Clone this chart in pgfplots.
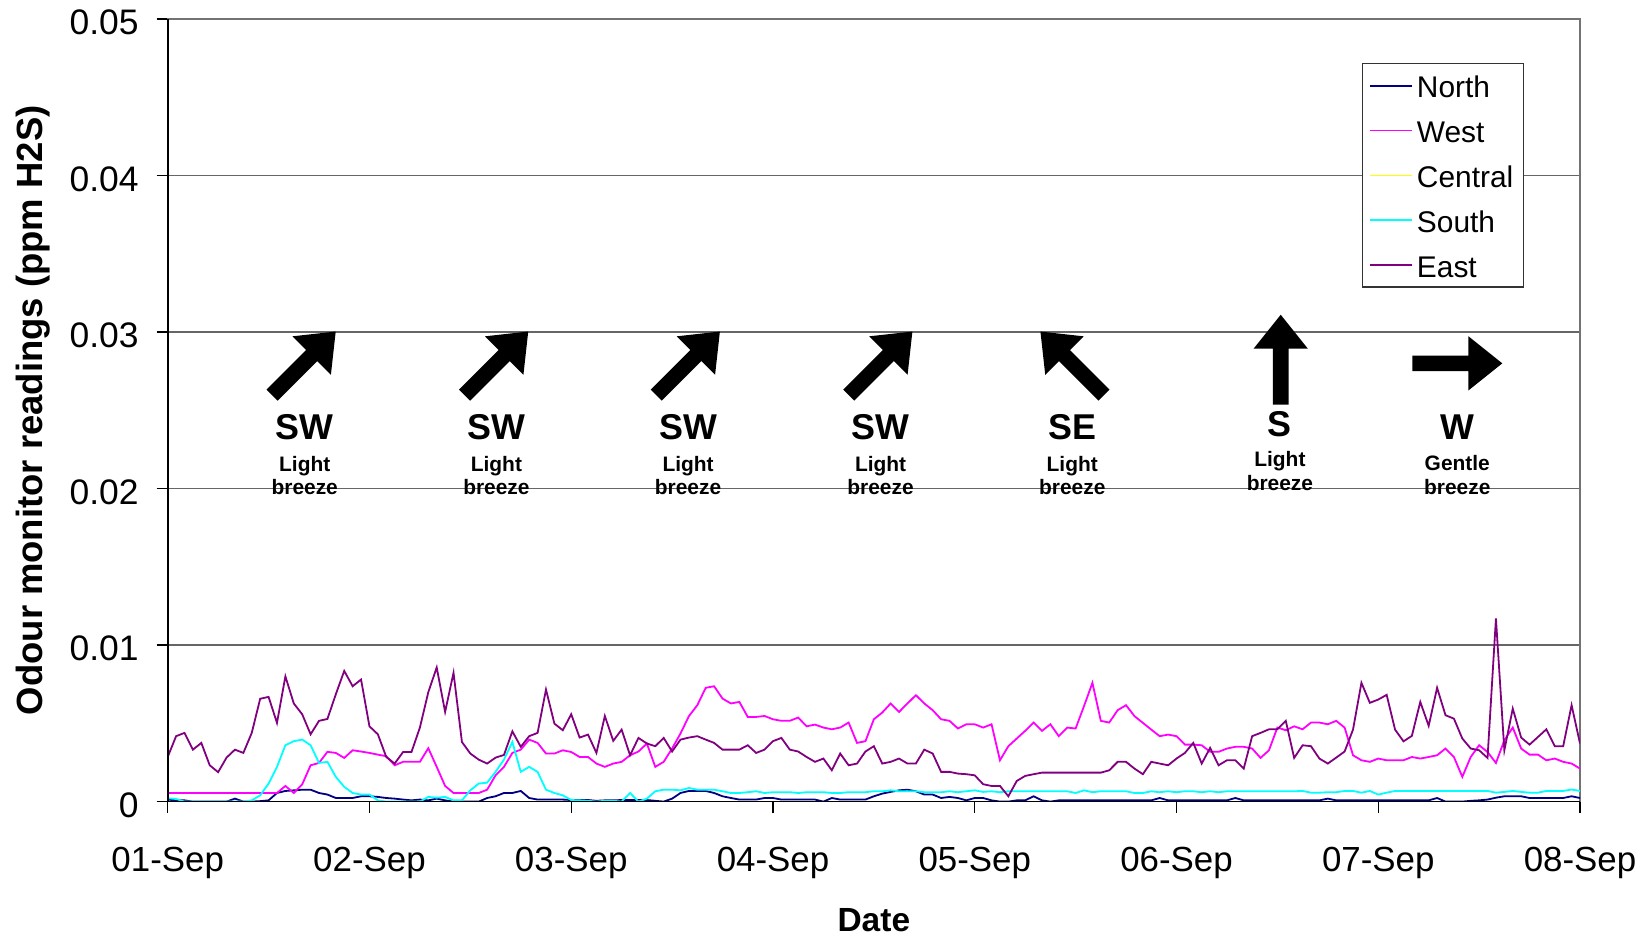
\documentclass[border=0pt]{standalone}
\usepackage{pgfplots}
\pgfplotsset{compat=1.18}
\usepackage{pgfplotstable}
\usepackage{fontspec}
\setmainfont{Liberation Sans}
\definecolor{cNorth}{HTML}{000080}
\definecolor{cWest}{HTML}{FF00FF}
\definecolor{cCentral}{HTML}{FFFF00}
\definecolor{cSouth}{HTML}{00FFFF}
\definecolor{cEast}{HTML}{800080}
\pgfplotstableread{
h N W S E
0 0.13e-3 0.55e-3 0.21e-3 2.85e-3
1 0.08e-3 0.55e-3 0.17e-3 4.18e-3
2 0.08e-3 0.55e-3 0 4.39e-3
3 0 0.55e-3 0 3.32e-3
4 0 0.55e-3 0 3.75e-3
5 0 0.55e-3 0 2.32e-3
6 0 0.55e-3 0 1.88e-3
7 0 0.55e-3 0 2.81e-3
8 0.19e-3 0.55e-3 0 3.32e-3
9 0 0.55e-3 0 3.11e-3
10 0 0.55e-3 0.08e-3 4.39e-3
11 0.03e-3 0.55e-3 0.4e-3 6.57e-3
12 0.08e-3 0.55e-3 1.15e-3 6.69e-3
13 0.55e-3 0.55e-3 2.22e-3 5.03e-3
14 0.68e-3 1.0e-3 3.6e-3 8.0e-3
15 0.72e-3 0.55e-3 3.86e-3 6.27e-3
16 0.76e-3 1.1e-3 3.96e-3 5.58e-3
17 0.76e-3 2.32e-3 3.6e-3 4.3e-3
18 0.55e-3 2.47e-3 2.47e-3 5.16e-3
19 0.45e-3 3.18e-3 2.54e-3 5.28e-3
20 0.23e-3 3.11e-3 1.58e-3 6.86e-3
21 0.23e-3 2.79e-3 0.94e-3 8.35e-3
22 0.23e-3 3.28e-3 0.55e-3 7.37e-3
23 0.34e-3 3.2e-3 0.45e-3 7.8e-3
24 0.34e-3 3.11e-3 0.45e-3 4.81e-3
25 0.3e-3 3.0e-3 0.08e-3 4.3e-3
26 0.23e-3 2.9e-3 0 2.85e-3
27 0.19e-3 2.32e-3 0 2.43e-3
28 0.13e-3 2.54e-3 0 3.17e-3
29 0.08e-3 2.54e-3 0 3.17e-3
30 0.13e-3 2.54e-3 0 4.73e-3
31 0.08e-3 3.41e-3 0.3e-3 6.99e-3
32 0.19e-3 2.22e-3 0.25e-3 8.57e-3
33 0.08e-3 1.0e-3 0.3e-3 5.73e-3
34 0 0.55e-3 0.08e-3 8.23e-3
35 0 0.55e-3 0.08e-3 3.81e-3
36 0 0.55e-3 0.72e-3 3.07e-3
37 0 0.55e-3 1.15e-3 2.68e-3
38 0.23e-3 0.76e-3 1.21e-3 2.43e-3
39 0.34e-3 1.68e-3 1.9e-3 2.81e-3
40 0.55e-3 2.22e-3 2.68e-3 2.98e-3
41 0.55e-3 3.11e-3 3.81e-3 4.49e-3
42 0.68e-3 3.32e-3 1.9e-3 3.5e-3
43 0.23e-3 3.96e-3 2.22e-3 4.18e-3
44 0.13e-3 3.75e-3 1.9e-3 4.39e-3
45 0.13e-3 3.07e-3 0.76e-3 7.16e-3
46 0.13e-3 3.07e-3 0.55e-3 4.98e-3
47 0.13e-3 3.28e-3 0.4e-3 4.56e-3
48 0.1e-3 3.17e-3 0.1e-3 5.58e-3
49 0.1e-3 2.85e-3 0.08e-3 4.09e-3
50 0.1e-3 2.85e-3 0.05e-3 4.28e-3
51 0.05e-3 2.43e-3 0 3.11e-3
52 0.08e-3 2.22e-3 0.05e-3 5.47e-3
53 0.08e-3 2.43e-3 0.05e-3 3.88e-3
54 0.1e-3 2.54e-3 0 4.6e-3
55 0.1e-3 2.96e-3 0.55e-3 2.96e-3
56 0.1e-3 3.2e-3 0 4.07e-3
57 0.1e-3 3.71e-3 0.19e-3 3.71e-3
58 0.05e-3 2.22e-3 0.66e-3 3.54e-3
59 0 2.54e-3 0.76e-3 4.07e-3
60 0.19e-3 3.39e-3 0.76e-3 3.2e-3
61 0.55e-3 4.35e-3 0.72e-3 3.96e-3
62 0.68e-3 5.46e-3 0.87e-3 4.09e-3
63 0.68e-3 6.16e-3 0.76e-3 4.18e-3
64 0.68e-3 7.27e-3 0.76e-3 3.96e-3
65 0.55e-3 7.37e-3 0.76e-3 3.75e-3
66 0.34e-3 6.58e-3 0.66e-3 3.32e-3
67 0.23e-3 6.27e-3 0.55e-3 3.32e-3
68 0.13e-3 6.37e-3 0.55e-3 3.32e-3
69 0.13e-3 5.41e-3 0.6e-3 3.6e-3
70 0.13e-3 5.41e-3 0.66e-3 3.11e-3
71 0.23e-3 5.47e-3 0.55e-3 3.32e-3
72 0.23e-3 5.26e-3 0.6e-3 3.86e-3
73 0.13e-3 5.16e-3 0.6e-3 4.07e-3
74 0.13e-3 5.16e-3 0.6e-3 3.32e-3
75 0.13e-3 5.37e-3 0.55e-3 3.2e-3
76 0.13e-3 4.81e-3 0.6e-3 2.85e-3
77 0.13e-3 4.92e-3 0.6e-3 2.54e-3
78 0 4.73e-3 0.6e-3 2.75e-3
79 0.23e-3 4.62e-3 0.55e-3 2.0e-3
80 0.13e-3 4.73e-3 0.55e-3 3.07e-3
81 0.13e-3 5.05e-3 0.6e-3 2.32e-3
82 0.13e-3 3.75e-3 0.6e-3 2.43e-3
83 0.13e-3 3.86e-3 0.6e-3 3.2e-3
84 0.34e-3 5.26e-3 0.66e-3 3.54e-3
85 0.51e-3 5.69e-3 0.66e-3 2.43e-3
86 0.62e-3 6.27e-3 0.72e-3 2.54e-3
87 0.72e-3 5.73e-3 0.66e-3 2.75e-3
88 0.76e-3 6.27e-3 0.66e-3 2.43e-3
89 0.66e-3 6.8e-3 0.66e-3 2.43e-3
90 0.45e-3 6.27e-3 0.6e-3 3.32e-3
91 0.45e-3 5.84e-3 0.6e-3 3.07e-3
92 0.23e-3 5.26e-3 0.6e-3 1.9e-3
93 0.3e-3 5.16e-3 0.66e-3 1.9e-3
94 0.23e-3 4.67e-3 0.6e-3 1.79e-3
95 0.08e-3 4.94e-3 0.66e-3 1.75e-3
96 0.23e-3 4.94e-3 0.72e-3 1.68e-3
97 0.23e-3 4.73e-3 0.62e-3 1.11e-3
98 0.08e-3 4.94e-3 0.66e-3 1.0e-3
99 0 2.64e-3 0.6e-3 1.0e-3
100 0 3.54e-3 0.66e-3 0.34e-3
101 0.08e-3 4.03e-3 0.66e-3 1.32e-3
102 0.08e-3 4.52e-3 0.66e-3 1.64e-3
103 0.34e-3 5.05e-3 0.66e-3 1.75e-3
104 0.08e-3 4.52e-3 0.66e-3 1.85e-3
105 0 4.94e-3 0.66e-3 1.85e-3
106 0.08e-3 4.18e-3 0.66e-3 1.85e-3
107 0.08e-3 4.73e-3 0.66e-3 1.85e-3
108 0.08e-3 4.67e-3 0.55e-3 1.85e-3
109 0.08e-3 6.1e-3 0.72e-3 1.85e-3
110 0.08e-3 7.59e-3 0.6e-3 1.85e-3
111 0.08e-3 5.16e-3 0.66e-3 1.85e-3
112 0.08e-3 5.05e-3 0.66e-3 2.0e-3
113 0.08e-3 5.84e-3 0.66e-3 2.54e-3
114 0.08e-3 6.16e-3 0.66e-3 2.54e-3
115 0.08e-3 5.46e-3 0.55e-3 2.11e-3
116 0.08e-3 5.03e-3 0.55e-3 1.75e-3
117 0.08e-3 4.6e-3 0.66e-3 2.54e-3
118 0.23e-3 4.18e-3 0.6e-3 2.43e-3
119 0.08e-3 4.28e-3 0.66e-3 2.32e-3
120 0.08e-3 4.18e-3 0.6e-3 2.75e-3
121 0.08e-3 3.64e-3 0.66e-3 3.11e-3
122 0.08e-3 3.64e-3 0.66e-3 3.75e-3
123 0.08e-3 3.6e-3 0.6e-3 2.43e-3
124 0.08e-3 3.18e-3 0.66e-3 3.43e-3
125 0.08e-3 3.18e-3 0.6e-3 2.32e-3
126 0.08e-3 3.39e-3 0.66e-3 2.64e-3
127 0.23e-3 3.5e-3 0.66e-3 2.64e-3
128 0.08e-3 3.5e-3 0.66e-3 2.11e-3
129 0.08e-3 3.39e-3 0.66e-3 4.18e-3
130 0.08e-3 2.79e-3 0.66e-3 4.39e-3
131 0.08e-3 3.28e-3 0.66e-3 4.62e-3
132 0.08e-3 4.73e-3 0.66e-3 4.62e-3
133 0.08e-3 4.56e-3 0.66e-3 5.16e-3
134 0.08e-3 4.81e-3 0.66e-3 2.79e-3
135 0.08e-3 4.62e-3 0.68e-3 3.6e-3
136 0.08e-3 5.05e-3 0.57e-3 3.54e-3
137 0.08e-3 5.05e-3 0.57e-3 2.75e-3
138 0.19e-3 4.94e-3 0.6e-3 2.43e-3
139 0.08e-3 5.16e-3 0.6e-3 2.81e-3
140 0.08e-3 4.73e-3 0.68e-3 3.2e-3
141 0.08e-3 2.96e-3 0.68e-3 4.6e-3
142 0.08e-3 2.64e-3 0.57e-3 7.59e-3
143 0.08e-3 2.54e-3 0.68e-3 6.31e-3
144 0.08e-3 2.75e-3 0.45e-3 6.52e-3
145 0.08e-3 2.64e-3 0.57e-3 6.82e-3
146 0.08e-3 2.64e-3 0.68e-3 4.6e-3
147 0.08e-3 2.64e-3 0.68e-3 3.85e-3
148 0.08e-3 2.85e-3 0.68e-3 4.2e-3
149 0.08e-3 2.75e-3 0.68e-3 6.37e-3
150 0.08e-3 2.85e-3 0.68e-3 4.84e-3
151 0.23e-3 2.96e-3 0.68e-3 7.27e-3
152 0 3.39e-3 0.68e-3 5.52e-3
153 0 2.85e-3 0.68e-3 5.3e-3
154 0 1.58e-3 0.68e-3 4.03e-3
155 0.05e-3 2.85e-3 0.68e-3 3.39e-3
156 0.08e-3 3.6e-3 0.68e-3 3.28e-3
157 0.13e-3 3.17e-3 0.68e-3 2.79e-3
158 0.25e-3 2.47e-3 0.57e-3 11.7e-3
159 0.34e-3 3.92e-3 0.62e-3 3.28e-3
160 0.34e-3 4.73e-3 0.68e-3 5.94e-3
161 0.34e-3 3.39e-3 0.62e-3 4.09e-3
162 0.23e-3 3.0e-3 0.57e-3 3.64e-3
163 0.23e-3 3.0e-3 0.57e-3 4.13e-3
164 0.23e-3 2.64e-3 0.68e-3 4.62e-3
165 0.23e-3 2.75e-3 0.68e-3 3.54e-3
166 0.23e-3 2.54e-3 0.68e-3 3.54e-3
167 0.34e-3 2.43e-3 0.77e-3 6.16e-3
168 0.23e-3 2.11e-3 0.68e-3 3.71e-3
}\odour
\newcommand{\arrowshape}{(-22.5bp,-3.9bp) -- (5.5bp,-3.9bp) -- (5.5bp,-13.6bp) -- (22.5bp,0bp) -- (5.5bp,13.6bp) -- (5.5bp,3.9bp) -- (-22.5bp,3.9bp) -- cycle}
\begin{document}
\begin{tikzpicture}
\begin{axis}[
  name=ax,
  scale only axis,
  width=706.15bp, height=391.3bp,
  xmin=0, xmax=168, ymin=0, ymax=0.05,
  xtick={0,24,48,72,96,120,144,168},
  xticklabels={01-Sep,02-Sep,03-Sep,04-Sep,05-Sep,06-Sep,07-Sep,08-Sep},
  ytick={0,0.01,0.02,0.03,0.04,0.05},
  yticklabels={0,0.01,0.02,0.03,0.04,0.05},
  xtick pos=bottom, ytick pos=left,
  tick align=outside,
  major tick length=5.5bp,
  tick style={black, line width=0.6bp},
  axis line style={draw=black!55, line width=0.6bp},
  ymajorgrids,
  major grid style={black!60, line width=0.6bp},
  xticklabel style={font=\fontsize{17.5}{17.5}\selectfont, anchor=base, yshift=-29.5bp},
  yticklabel style={font=\fontsize{17.8}{17.8}\selectfont, anchor=east, inner ysep=0pt, xshift=-5.5bp, yshift=-1.8bp},
  legend cell align=left,
  legend image code/.code={\draw[#1, line width=0.8bp] (0bp,0bp) -- (21bp,0bp);},
  legend style={at={(0.9607,0.9435)}, anchor=north east, draw=black!80, line width=0.6bp, fill=white,
    font=\fontsize{15}{15}\selectfont, inner xsep=3.2bp, inner ysep=4bp, row sep=8.4bp,
    nodes={inner xsep=2.1bp, inner ysep=0pt, text height=13bp, text depth=1bp}},
  every axis plot/.append style={line width=0.9bp},
]
\addplot[cNorth] table[x=h, y=N] {\odour};
\addlegendentry{North}
\addplot[cWest] table[x=h, y=W] {\odour};
\addlegendentry{West}
\addlegendimage{cCentral, line width=0.9bp}
\addlegendentry{Central}
\addplot[cSouth] table[x=h, y=S] {\odour};
\addlegendentry{South}
\addplot[cEast] table[x=h, y=E] {\odour};
\addlegendentry{East}
% arrow anchor points
\coordinate (a1) at (axis cs:16.2,0.0280);
\coordinate (a2) at (axis cs:39.1,0.0280);
\coordinate (a3) at (axis cs:61.9,0.0280);
\coordinate (a4) at (axis cs:84.8,0.0280);
\coordinate (a5) at (axis cs:107.6,0.0280);
\coordinate (a6) at (axis cs:132.4,0.02823);
\coordinate (a7) at (axis cs:153.4,0.0280);
% annotation text
\foreach \xx/\dd in {16.3/SW,39.1/SW,61.9/SW,84.8/SW,107.6/SE}{
  \edef\temp{\noexpand\node[font=\noexpand\bfseries\noexpand\fontsize{18}{18}\noexpand\selectfont, anchor=base, inner sep=0pt] at (axis cs:\xx,0.02312) {\dd};
  \noexpand\node[font=\noexpand\bfseries\noexpand\fontsize{10.5}{10.5}\noexpand\selectfont, anchor=base, inner sep=0pt] at (axis cs:\xx,0.02109) {Light};
  \noexpand\node[font=\noexpand\bfseries\noexpand\fontsize{10.5}{10.5}\noexpand\selectfont, anchor=base, inner sep=0pt] at (axis cs:\xx,0.0196) {breeze};}
  \temp
}
\node[font=\bfseries\fontsize{18}{18}\selectfont, anchor=base, inner sep=0pt] at (axis cs:132.3,0.02333) {S};
\node[font=\bfseries\fontsize{10.5}{10.5}\selectfont, anchor=base, inner sep=0pt] at (axis cs:132.3,0.0214) {Light};
\node[font=\bfseries\fontsize{10.5}{10.5}\selectfont, anchor=base, inner sep=0pt] at (axis cs:132.3,0.0199) {breeze};
\node[font=\bfseries\fontsize{18}{18}\selectfont, anchor=base, inner sep=0pt] at (axis cs:153.4,0.02316) {W};
\node[font=\bfseries\fontsize{10.5}{10.5}\selectfont, anchor=base, inner sep=0pt] at (axis cs:153.4,0.02115) {Gentle};
\node[font=\bfseries\fontsize{10.5}{10.5}\selectfont, anchor=base, inner sep=0pt] at (axis cs:153.4,0.0196) {breeze};
\end{axis}
% solid axis lines
\draw[black, line width=0.8bp] (ax.north west) -- (ax.south west) -- (ax.south east);
% wind arrows
\fill[black, shift={(a1)}, rotate=45] \arrowshape;
\fill[black, shift={(a2)}, rotate=45] \arrowshape;
\fill[black, shift={(a3)}, rotate=45] \arrowshape;
\fill[black, shift={(a4)}, rotate=45] \arrowshape;
\fill[black, shift={(a5)}, rotate=135] \arrowshape;
\fill[black, shift={(a6)}, rotate=90] \arrowshape;
\fill[black, shift={(a7)}, rotate=0] \arrowshape;
% axis titles
\node[rotate=90, font=\bfseries\fontsize{18.3}{18.3}\selectfont] at ([xshift=-67.5bp]ax.west) {Odour monitor readings (ppm H2S)};
\node[anchor=base, font=\bfseries\fontsize{16.8}{16.8}\selectfont] at ([yshift=-65bp]ax.south) {Date};
\pgfresetboundingbox
\path ([shift={(-83.85bp,-68.2bp)}]ax.south west) rectangle ([shift={(742.15bp,400.8bp)}]ax.south west);
\end{tikzpicture}
\end{document}
